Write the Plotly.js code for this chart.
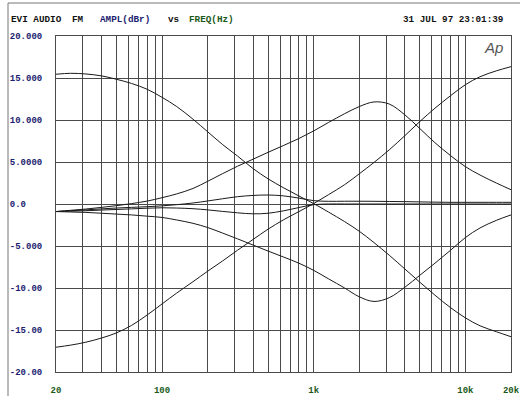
<!DOCTYPE html>
<html>
<head>
<meta charset="utf-8">
<script src="https://cdn.plot.ly/plotly-3.0.1.min.js"></script>
<style>
html,body{margin:0;padding:0;background:#fff;}
#chart{width:520px;height:396px;}
</style>
</head>
<body>
<div id="chart"></div>
<script>
// ---- data (1/3-octave points) ----
const freqs = [20,25,31.5,40,50,63,80,100,125,160,200,250,315,400,500,630,800,1000,1250,1600,2000,2500,3150,4000,5000,6300,8000,10000,12500,16000,20000];
const tiltBassBoost = [15.45,15.56,15.48,15.25,14.85,14.35,13.65,12.7,11.6,10.1,8.6,7.1,5.7,4.2,3.0,1.95,0.95,0.05,-0.95,-2.1,-3.25,-4.6,-6.1,-7.75,-9.3,-10.85,-12.35,-13.55,-14.5,-15.2,-15.8];
const tiltBassCut = [-17.05,-16.8,-16.45,-15.95,-15.35,-14.45,-13.2,-11.9,-10.6,-9.25,-8.0,-6.8,-5.5,-4.2,-3.0,-1.9,-0.9,0.05,1.1,2.3,3.6,4.95,6.45,8.15,9.8,11.4,12.9,14.2,15.15,15.85,16.35];
const midBoost = [-0.9,-0.75,-0.6,-0.4,-0.2,0.05,0.35,0.75,1.2,1.85,2.7,3.6,4.5,5.35,6.15,6.95,7.8,8.7,9.7,10.75,11.6,12.15,11.9,10.6,9.0,7.3,5.75,4.45,3.45,2.5,1.7];
const midCut = [-0.9,-0.95,-1.0,-1.1,-1.2,-1.3,-1.45,-1.6,-1.9,-2.3,-2.8,-3.45,-4.15,-4.9,-5.6,-6.3,-7.05,-7.9,-8.9,-10.0,-11.05,-11.6,-11.15,-9.9,-8.5,-7.05,-5.5,-4.0,-2.85,-1.95,-1.3];
const lowMidBoost = [-0.9,-0.8,-0.7,-0.58,-0.48,-0.4,-0.32,-0.22,-0.08,0.12,0.36,0.62,0.87,1.02,1.07,0.97,0.7,0.4,0.32,0.33,0.33,0.32,0.3,0.28,0.25,0.22,0.2,0.2,0.2,0.2,0.2];
const lowMidCut = [-0.9,-0.85,-0.8,-0.72,-0.65,-0.58,-0.5,-0.45,-0.48,-0.56,-0.7,-0.88,-1.05,-1.17,-1.1,-0.82,-0.42,-0.08,0,0,0,0,0,0,0,0,0,0,0,0,0];

const xGridFreqs = [20,30,40,50,60,70,80,90,100,200,300,400,500,600,700,800,900,1000,2000,3000,4000,5000,6000,7000,8000,9000,10000,20000];
const xLabelFreqs = [20,100,1000,10000,20000];
const xLabelText = ['20','100','1k','10k','20k'];
const yTickVals = [20,15,10,5,0,-5,-10,-15,-20];
const yTickText = ['20.000','15.000','10.000','5.0000','0.0','-5.000','-10.00','-15.00','-20.00'];

// ---- chart ----
const series = [tiltBassBoost, tiltBassCut, midBoost, midCut, lowMidBoost, lowMidCut];
const traces = series.map(v => ({
  x: freqs, y: v, type: 'scatter', mode: 'lines',
  line: {color: '#1a1a1a', width: 1, shape: 'spline', smoothing: 1},
  hoverinfo: 'skip', showlegend: false
}));

const xTickText = xGridFreqs.map(f => {
  const i = xLabelFreqs.indexOf(f);
  return i >= 0 ? '<b>' + xLabelText[i] + '</b>' : '';
});
const yText = yTickText.map(t => '<b>' + t.padEnd(6, '\u00a0') + '</b>');

const L = 56, R = 511, T = 36, B = 372, W = 520, H = 396;
const px = x => (x - L) / (R - L);
const py = y => (B - y) / (B - T);
const mono = 'Liberation Mono, Courier New, monospace';

function hdr(text, x, color, anchor) {
  return {text: '<b>' + text + '</b>', xref: 'paper', yref: 'paper', x: px(x), y: py(20),
    xanchor: anchor || 'left', yanchor: 'middle', showarrow: false,
    font: {family: mono, size: 9.3, color: color, weight: 700}};
}

const layout = {
  width: W, height: H,
  margin: {l: L, r: W - R, t: T, b: H - B, pad: 0},
  paper_bgcolor: '#ffffff', plot_bgcolor: '#ffffff',
  showlegend: false,
  xaxis: {
    type: 'log', range: [Math.log10(20), Math.log10(20000)],
    tickmode: 'array', tickvals: xGridFreqs, ticktext: xTickText,
    showgrid: true, gridcolor: '#4a4a4a', gridwidth: 1,
    showline: true, mirror: true, linecolor: '#4a4a4a', linewidth: 1,
    ticks: '', ticklabelstandoff: 9, zeroline: false,
    tickfont: {family: mono, size: 9, color: '#1a5a1a', weight: 700}
  },
  yaxis: {
    range: [-20, 20], tickmode: 'array', tickvals: yTickVals, ticktext: yText,
    showgrid: true, gridcolor: '#4a4a4a', gridwidth: 1,
    showline: true, mirror: true, linecolor: '#4a4a4a', linewidth: 1,
    ticks: '', ticklabelstandoff: 11, zeroline: false,
    tickfont: {family: mono, size: 9, color: '#1c1c70', weight: 700}
  },
  annotations: [
    hdr('EVI AUDIO', 9, '#111'),
    hdr('FM', 70, '#111'),
    hdr('AMPL(dBr)', 98, '#1c1c70'),
    hdr('vs', 166, '#111'),
    hdr('FREQ(Hz)', 187, '#1a5a1a'),
    hdr('31 JUL 97 23:01:39', 506, '#111', 'right'),
    {text: '<i>Ap</i>', xref: 'paper', yref: 'paper', x: px(505), y: py(47),
     xanchor: 'right', yanchor: 'middle', showarrow: false,
     font: {family: 'Liberation Sans, Arial, sans-serif', size: 15, color: '#555'}}
  ],
  shapes: [
    {type: 'line', xref: 'paper', yref: 'paper', x0: px(8), x1: px(520), y0: py(3), y1: py(3),
     line: {color: '#777', width: 1}},
    {type: 'line', xref: 'paper', yref: 'paper', x0: px(8), x1: px(8), y0: py(3), y1: py(396),
     line: {color: '#777', width: 1}}
  ]
};

Plotly.newPlot('chart', traces, layout, {staticPlot: true, displayModeBar: false});
</script>
</body>
</html>
